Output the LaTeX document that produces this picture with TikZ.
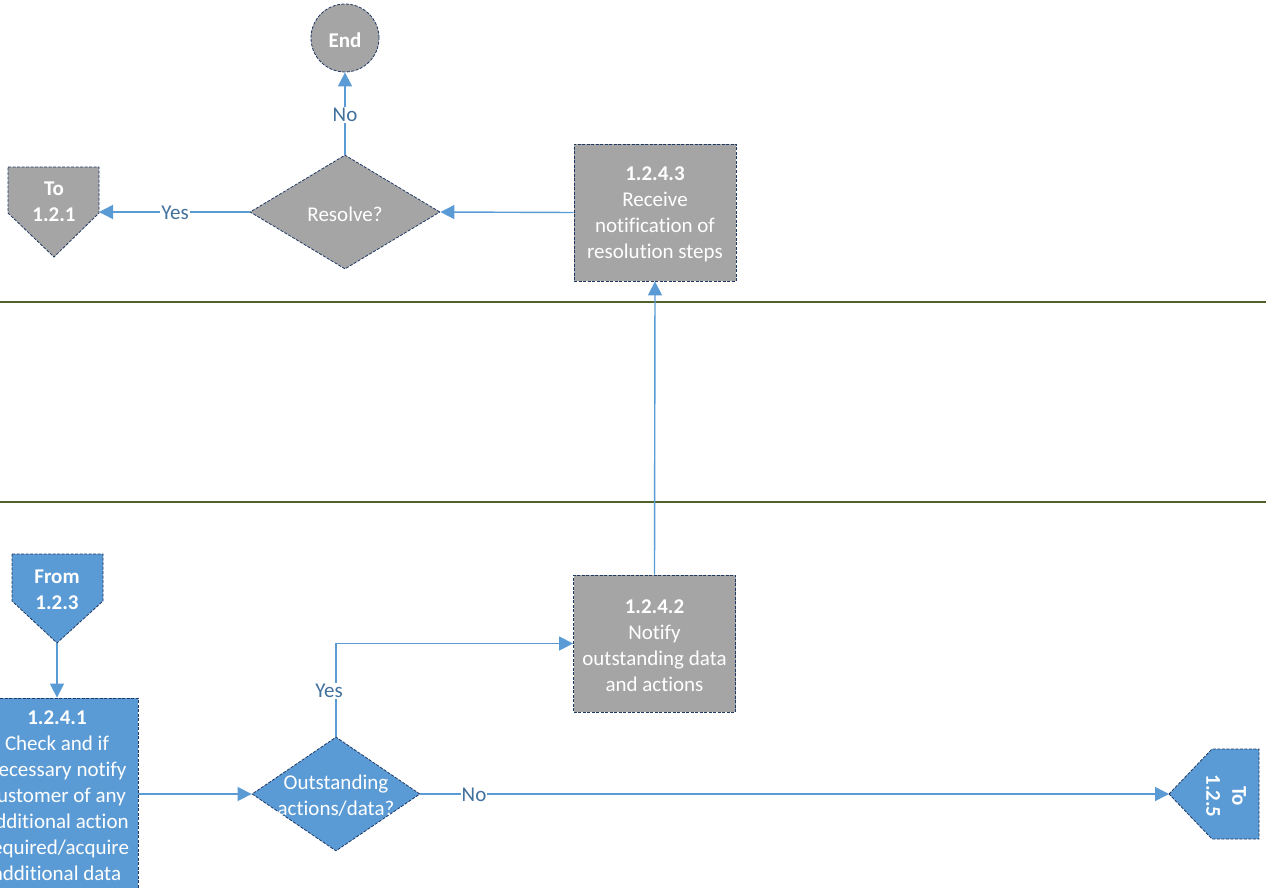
\documentclass[tikz,border=0pt]{standalone}
\usepackage{fontspec}
\setmainfont{Carlito}[Ligatures=NoCommon]
\usetikzlibrary{arrows.meta,shapes.geometric}
\definecolor{gfill}{RGB}{165,165,165}
\definecolor{bfill}{RGB}{91,155,213}
\definecolor{bord}{RGB}{32,56,100}
\definecolor{conn}{RGB}{91,155,213}
\definecolor{lbl}{RGB}{65,113,156}
\definecolor{lane}{RGB}{79,98,40}
\tikzset{
  shp/.style={draw=bord, line width=0.8pt, dash pattern=on 3pt off 1.5pt},
  graybox/.style={shp, fill=gfill, rectangle, minimum width=162pt, minimum height=137pt, inner sep=0pt},
  bluebox/.style={shp, fill=bfill, rectangle, minimum width=162pt, minimum height=194pt, inner sep=0pt},
  txt/.style={text=white, align=center, font=\fontsize{21}{26}\selectfont, inner sep=0pt, yshift=-2pt},
  dia/.style={shp, diamond, inner sep=0pt},
  conline/.style={draw=conn, line width=1.4pt},
  arr/.style={conline, -{Triangle[length=14pt,width=14pt]}},
  lab/.style={fill=white, text=lbl, font=\fontsize{21}{26}\selectfont, inner sep=1pt, yshift=-1pt},
  laneline/.style={draw=lane, line width=1.3pt}
}
\begin{document}
\begin{tikzpicture}[x=1pt,y=-1pt]
\useasboundingbox (0,0) rectangle (1266,888);
\clip (0,0) rectangle (1266,888);
% lanes
\draw[laneline] (0,302) -- (1266,302);
\draw[laneline] (0,502) -- (1266,502);
% End
\node[shp, circle, fill=gfill, minimum size=68pt, inner sep=0pt] (end) at (345,38) {};
\node[txt, font=\fontsize{21}{26}\selectfont\bfseries] (endt) at (end) {End};
% Resolve diamond
\node[dia, fill=gfill, minimum width=190pt, minimum height=114pt] (resolve) at (345,212) {};
\node[txt] (resolvet) at (345,212) {Resolve?};
% To 1.2.1
\draw[shp, fill=gfill] (8,167) -- (99,167) -- (99,213) -- (54,257) -- (8,213) -- cycle;
\coordinate (to121) at (99,212);
\node[txt, font=\fontsize{21}{26}\selectfont\bfseries] (to121t) at (54,200) {To\\1.2.1};
% 1.2.4.3
\node[graybox] (b3) at (655,212.5) {};
\node[txt] (b3t) at (b3) {\textbf{1.2.4.3}\\Receive\\notification of\\resolution steps};
% 1.2.4.2
\node[graybox] (b2) at (654.5,643.5) {};
\node[txt] (b2t) at (b2) {\textbf{1.2.4.2}\\Notify\\outstanding data\\and actions};
% From 1.2.3
\draw[shp, fill=bfill] (12,554) -- (103,554) -- (103,601) -- (57,643) -- (12,601) -- cycle;
\coordinate (from123) at (57,643);
\node[txt, font=\fontsize{21}{26}\selectfont\bfseries] (from123t) at (57,588) {From\\1.2.3};
% 1.2.4.1
\node[bluebox] (b1) at (57,795) {};
\node[txt] (b1t) at (57,794) {\textbf{1.2.4.1}\\Check and if\\necessary notify\\customer of any\\additional action\\required/acquire\\additional data};
% Outstanding diamond
\node[dia, fill=bfill, minimum width=168pt, minimum height=114pt] (out) at (336,794) {};
\node[txt] (outt) at (336,794) {Outstanding\\actions/data?};
% To 1.2.5
\draw[shp, fill=bfill] (1169,794) -- (1212,749) -- (1259,749) -- (1259,839) -- (1212,839) -- cycle;
\coordinate (to125) at (1169,794);
\node[txt, font=\fontsize{21}{26}\selectfont\bfseries, rotate=-90, yshift=2pt] (to125t) at (1224,794) {To\\1.2.5};
% connectors
\draw[arr] (b3.west) -- (resolve.east);
\draw[arr] (resolve.west) -- (to121);
\node[lab] at (175,212) {Yes};
\draw[arr] (resolve.north) -- (end.south);
\node[lab] at (345,114) {No};
\draw[arr] (b2.north) -- (b3.south);
\draw[arr] (from123) -- (b1.north);
\draw[arr] (b1.east |- out.west) -- (out.west);
\draw[arr] (out.north) |- (b2.west);
\node[lab] at (329,690) {Yes};
\draw[arr] (out.east) -- (to125);
\node[lab] at (474,794) {No};
\end{tikzpicture}
\end{document}
